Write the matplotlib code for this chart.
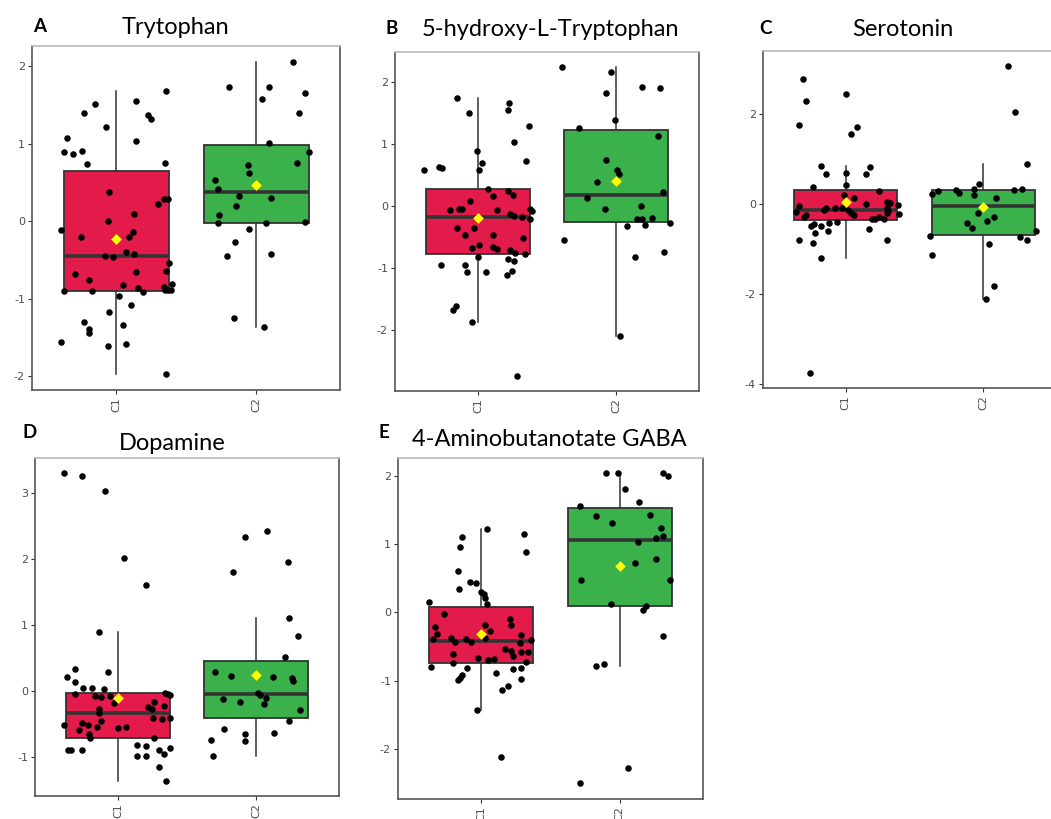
import numpy as np
import matplotlib
matplotlib.use("Agg")
from matplotlib import pyplot as plt

# group labels and colours
groups = ["C1", "C2"]
box_colors = ["#E31B4B", "#3AB14B"]

# panel A - Trytophan (values and horizontal jitter)
trp_c1 = [1.68, 1.51, 1.55, 1.39, 1.37, 1.32, 1.22, 1.07, 1.04, 0.89, 0.87, 0.90, 0.74, 0.75,
          0.38, 0.22, 0.28, 0.28, 0.0, 0.09, -0.12, -0.20, -0.14, -0.21, -0.45, -0.46, -0.40,
          -0.42, -0.54, -0.68, -0.76, -0.66, -0.65, -0.83, -0.90, -0.90, -0.87, -0.91, -0.85,
          -0.89, -0.89, -0.81, -0.97, -1.08, -1.17, -1.30, -1.40, -1.44, -1.34, -1.56, -1.62,
          -1.59, -1.98, -0.89]
trp_c1_jit = [.355, -.15, .144, -.232, .232, .25, -.07, -.35, .14, -.37, -.31, -.24, -.21, .35,
              -.05, .30, .34, .37, -.06, .13, -.39, -.25, .12, .09, -.08, -.02, .07,
              .13, .38, -.29, -.19, .14, .36, .05, -.37, -.17, .16, .19, .34,
              .35, .39, .40, .02, .11, -.05, -.23, -.19, -.19, .05, -.39, -.06,
              .07, .355, .37]
trp_c2 = [2.06, 1.73, 1.73, 1.66, 1.58, 1.39, 1.01, 0.89, 0.72, 0.75, 0.62, 0.53, 0.42, 0.33,
          0.30, 0.19, 0.08, -0.03, -0.03, -0.01, -0.10, -0.27, -0.45, -0.42, -1.25, -1.37]
trp_c2_jit = [.265, -.19, .09, .35, .045, .31, .09, .38, -.06, .29, -.05, -.29, -.27, -.12,
              .11, -.14, -.265, -.27, .07, .35, -.05, -.15, -.21, .11, -.16, .06]

# panel B - 5-hydroxy-L-Tryptophan
htp_c1 = [1.74, 1.65, 1.55, 1.49, 1.29, 1.03, 0.88, 0.69, 0.72, 0.57, 0.63, 0.60, 0.58, 0.27,
          0.24, 0.18, 0.15, 0.08, -0.07, -0.05, -0.05, -0.07, -0.14, -0.16, -0.19, -0.05, -0.08,
          -0.22, -0.36, -0.36, -0.47, -0.47, -0.52, -0.63, -0.66, -0.70, -0.69, -0.72, -0.76,
          -0.78, -0.83, -0.86, -0.89, -0.95, -0.95, -1.07, -1.07, -1.12, -1.05, -1.62, -1.68,
          -1.88, -2.74]
htp_c1_jit = [-.15, .226, .22, -.065, .37, .26, -.01, .03, .35, -.39, -.28, -.26, .01, .07,
              .22, .255, .11, -.06, -.20, -.14, -.115, .14, .23, .26, .32, .38, .39,
              .38, -.15, -.03, -.09, .11, .325, .01, .11, .14, -.04, .23, .27,
              .34, 0.0, .22, .26, -.27, -.09, -.08, .06, .21, .245, -.16, -.18,
              -.04, .28]
htp_c2 = [2.23, 2.16, 1.81, 1.92, 1.90, 1.38, 1.26, 1.13, 0.74, 0.57, 0.51, 0.39, 0.22, 0.13,
          -0.01, -0.06, -0.21, -0.22, -0.20, -0.31, -0.28, -0.33, -0.56, -0.75, -0.83, -2.10]
htp_c2_jit = [-.39, -.04, -.07, .185, .32, -.01, -.27, .30, -.07, .005, .02, -.14, .34, -.21,
              .18, -.08, .15, .185, .26, .21, .39, .08, -.38, .35, .14, .03]

# panel C - Serotonin
ser_c1 = [0.84, 0.67, 0.69, 0.81, 0.67, 0.43, 0.37, 0.29, 0.20, 0.13, -0.05, -0.17, -0.24, -0.28,
          -0.10, -0.13, -0.08, -0.08, -0.13, -0.19, -0.24, 0.0, 0.05, 0.01, -0.02, -0.08, -0.16,
          -0.21, -0.23, -0.34, -0.33, -0.30, -0.33, -0.39, -0.43, -0.44, -0.50, -0.49, -0.65,
          -0.61, -0.55, -0.80, -0.87, -0.80, -1.20, 2.76, 2.29, 2.43, 1.76, 1.56, 1.71, -3.74]
ser_c1_jit = [-.18, -.14, 0.0, .18, .15, 0.0, -.24, .24, -.01, .06, -.34, -.36, -.29, -.30,
              -.145, -.16, -.08, -.03, .02, .04, .06, .145, .30, .32, .38, .30, .31,
              .30, .385, .19, .21, .24, .28, -.06, -.12, -.23, -.25, -.18, -.22,
              -.125, .17, -.34, -.24, .30, -.18, -.31, -.29, .005, -.335, .04, .08, -.26]
ser_c2 = [0.88, 0.45, 0.34, 0.23, 0.29, 0.31, 0.25, 0.20, 0.14, 0.31, 0.33, -0.21, -0.28, -0.37,
          -0.43, -0.54, -0.60, -0.71, -0.74, -0.81, -0.89, -1.13, 3.05, 2.04, -1.82, -2.11]
ser_c2_jit = [.32, -.03, -.07, -.37, -.33, -.20, -.18, -.07, .09, .22, .28, -.04, .08, .03,
              -.12, -.08, .385, -.39, .265, .32, .04, -.37, .18, .23, .08, .02]

# panel D - Dopamine
dop_c1 = [3.30, 3.26, 3.03, 2.01, 1.60, 0.90, 0.33, 0.21, 0.28, 0.14, 0.05, 0.04, 0.03, -0.05,
          -0.08, -0.09, -0.07, -0.18, -0.03, -0.04, -0.06, -0.17, -0.25, -0.23, -0.28, -0.28,
          -0.33, -0.46, -0.41, -0.42, -0.41, -0.51, -0.49, -0.51, -0.55, -0.56, -0.55, -0.59,
          -0.65, -0.72, -0.71, -0.90, -0.89, -0.90, -0.82, -0.83, -0.99, -0.99, -0.90, -0.86,
          -0.96, -1.16, -1.36]
dop_c1_jit = [-.39, -.26, -.09, .045, .20, -.135, -.31, -.37, -.07, -.31, -.25, -.19, -.10, -.31,
              -.165, -.12, -.06, -.03, .34, .36, .38, .26, .22, .33, .25, -.135,
              -.14, -.12, .255, .32, .38, -.39, -.26, -.22, -.15, 0.0, .06, -.28,
              -.21, -.20, .26, -.36, -.34, -.26, .135, .20, .14, .20, .30, .38,
              .33, .30, .345]
dop_c2 = [2.42, 2.33, 1.95, 1.80, 1.11, 0.83, 0.52, 0.28, 0.23, 0.21, 0.19, 0.15, -0.03, -0.06,
          -0.10, -0.12, -0.17, -0.20, -0.29, -0.46, -0.58, -0.63, -0.65, -0.74, -0.76, -0.98]
dop_c2_jit = [.08, -.08, .23, -.17, .24, .305, .21, -.30, -.185, .125, .26, .27, .015, .03,
              .07, -.24, -.12, .06, .32, .24, -.23, .13, -.08, -.325, -.08, -.315]

# panel E - 4-Aminobutanotate GABA
gaba_c1 = [1.22, 1.10, 1.15, 0.955, 0.88, 0.61, 0.34, 0.44, 0.43, 0.30, 0.27, 0.21, 0.12, 0.15,
           -0.02, -0.09, -0.19, -0.18, -0.22, -0.32, -0.33, -0.27, -0.39, -0.38, -0.43, -0.39,
           -0.43, -0.37, -0.40, -0.44, -0.54, -0.57, -0.64, -0.58, -0.58, -0.66, -0.70, -0.68,
           -0.61, -0.74, -0.72, -0.80, -0.81, -0.81, -0.83, -0.88, -0.92, -0.96, -0.99, -0.97,
           -1.07, -1.14, -1.42, -2.11]
gaba_c1_jit = [.04, -.14, .31, -.15, .32, -.17, -.16, -.08, -.04, 0.0, .02, .03, .04, -.38,
               -.27, .21, .215, .03, -.33, -.32, .29, .06, -.35, -.215, -.19, -.11,
               -.07, .03, .36, .28, .17, .215, .23, .29, .34, -.02, .05, .09,
               -.20, -.20, .32, -.36, -.10, .29, .23, .11, -.14, -.15, -.17, .29,
               .195, .15, -.03, .14]
gaba_c2 = [2.03, 2.03, 2.03, 1.99, 1.81, 1.62, 1.56, 1.43, 1.41, 1.30, 1.23, 1.09, 1.11, 1.03,
           0.785, 0.72, 0.48, 0.48, 0.12, 0.09, 0.03, -0.34, -0.79, -0.76, -2.28, -2.50]
gaba_c2_jit = [-.10, -.01, .31, .35, .04, .14, -.29, .22, -.175, -.06, .30, .26, .31, .13,
               .26, .11, -.28, .36, -.065, .19, .17, .31, -.175, -.115, .06, -.29]

# y tick values per panel
ticks_a = [-2, -1, 0, 1, 2]
ticks_b = [-2, -1, 0, 1, 2]
ticks_c = [-4, -2, 0, 2]
ticks_d = [-1, 0, 1, 2, 3]
ticks_e = [-2, -1, 0, 1, 2]

plt.rcParams['axes.unicode_minus'] = False

W, H = 1051, 819
fig = plt.figure(figsize=(W / 100, H / 100), dpi=100)


def px_axes(left, top, right, bottom):
    # axes from pixel box of the reference image
    return fig.add_axes([left / W, 1 - bottom / H, (right - left) / W, (bottom - top) / H])


def draw_panel(ax, c1, c1_jit, c2, c2_jit, yticks):
    data = [c1, c2]
    bp = ax.boxplot(data, positions=[1, 2], widths=0.75, patch_artist=True,
                    showfliers=False, showcaps=False,
                    boxprops=dict(edgecolor="#333333", linewidth=1.3),
                    whiskerprops=dict(color="#333333", linewidth=1.1),
                    medianprops=dict(color="#333333", linewidth=2.6))
    for patch, col in zip(bp["boxes"], box_colors):
        patch.set_facecolor(col)
    for i, (vals, jit) in enumerate([(c1, c1_jit), (c2, c2_jit)]):
        xs = np.array(jit) + i + 1
        ax.scatter(xs, vals, s=22, color="black", zorder=3, linewidths=0)
        ax.scatter([i + 1], [np.mean(vals)], marker="D", s=30, color="#FFFF00",
                   zorder=4, linewidths=0)
    ax.set_xlim(0.4, 2.6)
    ax.margins(y=0.05)
    ax.set_yticks(yticks)
    ax.set_yticklabels([str(t) for t in yticks])
    ax.set_xticks([1, 2])
    ax.set_xticklabels(groups, rotation=90)
    ax.tick_params(axis="both", labelsize=8, labelcolor="#4d4d4d", color="#333333",
                   length=3, width=0.8, pad=2)
    for name, sp in ax.spines.items():
        sp.set_color("#bbbbbb" if name == "top" else "#555555")
        sp.set_linewidth(1.2)


title_font = dict(family=["Lato", "DejaVu Sans"], fontsize=17, color="black")
letter_font = dict(family=["Lato", "DejaVu Sans"], fontsize=13.5, fontweight="bold")

ax_a = px_axes(32, 46, 340, 390)
draw_panel(ax_a, trp_c1, trp_c1_jit, trp_c2, trp_c2_jit, ticks_a)
ax_b = px_axes(395, 52, 699, 391)
draw_panel(ax_b, htp_c1, htp_c1_jit, htp_c2, htp_c2_jit, ticks_b)
ax_c = px_axes(763, 51, 1066, 388)
draw_panel(ax_c, ser_c1, ser_c1_jit, ser_c2, ser_c2_jit, ticks_c)
ax_d = px_axes(35, 458, 339, 796)
draw_panel(ax_d, dop_c1, dop_c1_jit, dop_c2, dop_c2_jit, ticks_d)
ax_e = px_axes(398, 458, 703, 799)
draw_panel(ax_e, gaba_c1, gaba_c1_jit, gaba_c2, gaba_c2_jit, ticks_e)

# panel titles and letters (pixel positions of the reference)
titles = [("A", 40, 27, "Trytophan", 175, 28),
          ("B", 392, 29, "5-hydroxy-L-Tryptophan", 550, 29),
          ("C", 765, 29, "Serotonin", 903, 29),
          ("D", 30, 433, "Dopamine", 172, 444),
          ("E", 384, 432, "4-Aminobutanotate GABA", 549, 440)]
for letter, lx, ly, text, tx, ty in titles:
    fig.text(lx / W, 1 - ly / H, letter, ha="center", va="center", **letter_font)
    fig.text(tx / W, 1 - ty / H, text, ha="center", va="center", **title_font)

fig.savefig("out.png", dpi=100)
